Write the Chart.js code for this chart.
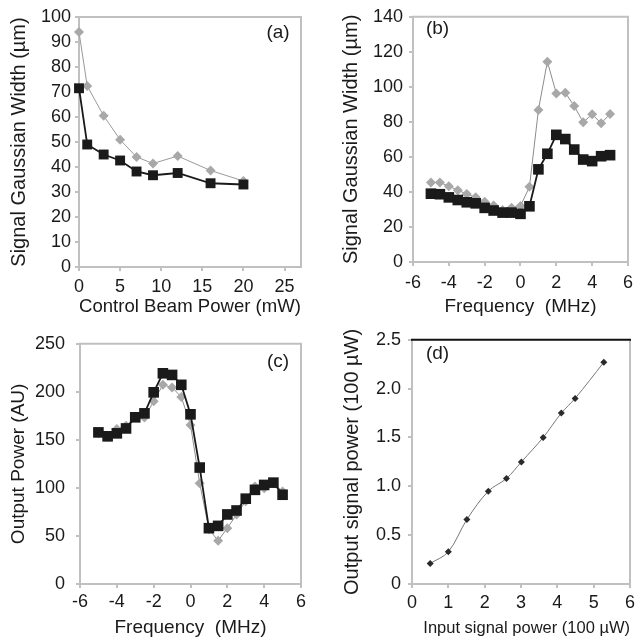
<!DOCTYPE html>
<html>
<head>
<meta charset="utf-8">
<title>Signal width and output power</title>
<script src="https://cdn.jsdelivr.net/npm/chart.js@4.4.1/dist/chart.umd.min.js"></script>
<style>
  html, body { margin: 0; padding: 0; background: #fff; }
  #page { position: relative; width: 639px; height: 642px; overflow: hidden; }
  canvas { position: absolute; }
</style>
</head>
<body>
<div id="page">
  <canvas id="panelA" width="320" height="322" style="left:0px;top:0px"></canvas>
  <canvas id="panelB" width="319" height="322" style="left:320px;top:0px"></canvas>
  <canvas id="panelC" width="320" height="320" style="left:0px;top:322px"></canvas>
  <canvas id="panelD" width="319" height="320" style="left:320px;top:322px"></canvas>
</div>
<script>
// ---- data ----

// (a) width vs control beam power
const powerA = [0, 1, 3, 5, 7, 9, 12, 16, 20];
const widthA_black = [71.5, 49, 45, 42.6, 38.2, 36.7, 37.6, 33.5, 33];
const widthA_grey = [94, 72.4, 60.5, 50.9, 44, 41.4, 44.4, 38.6, 34.4];
const ticksA_x = [0, 5, 10, 15, 20, 25];

// (b) width vs frequency
const freqB = [-5, -4.5, -4, -3.5, -3, -2.5, -2, -1.5, -1, -0.5, 0, 0.5, 1, 1.5, 2, 2.5, 3, 3.5, 4, 4.5, 5];
const widthB_black = [39, 38.7, 36.9, 35.4, 34.1, 33.5, 30.9, 29.4, 28.2, 28.2, 27.5, 31.8, 52.9, 61.8, 72.6, 70.2, 64.2, 58.5, 57.6, 60.4, 61];
const widthB_grey = [45.4, 45.4, 43.3, 41, 38.8, 36.9, 34.4, 32.2, 29.7, 31, 32, 42.9, 86.8, 114.4, 96.2, 96.7, 89, 79.8, 84.3, 79.2, 84.5];

// (c) output power vs frequency
const freqC = [-5, -4.5, -4, -3.5, -3, -2.5, -2, -1.5, -1, -0.5, 0, 0.5, 1, 1.5, 2, 2.5, 3, 3.5, 4, 4.5, 5];
const outC_black = [157.8, 153.7, 156.8, 161.9, 173.5, 177.6, 199.5, 219.3, 217.6, 207.3, 176.6, 121.2, 58.1, 60.5, 72.4, 76.5, 88.8, 98, 103.1, 105.5, 92.9];
const outC_grey = [157, 153, 161.2, 164.6, 174, 173.2, 190.2, 207.3, 204.6, 194.7, 165.6, 104.8, 57, 45.1, 58.1, 72.4, 86.1, 101.4, 99.7, 104.8, 96.3];

// (d) output vs input signal power
const inputD = [0.5, 1.0, 1.51, 2.1, 2.6, 3.01, 3.61, 4.11, 4.49, 5.28];
const outputD = [0.21, 0.33, 0.66, 0.95, 1.08, 1.25, 1.50, 1.75, 1.90, 2.27];

// ---- shared styling ----
const FONT = "'Liberation Sans', Arial, Helvetica, sans-serif";
const FRAME = '#c0c0c0';
const TEXT = '#1a1a1a';

function pts(xs, ys) {
  return xs.map(function (x, i) { return { x: x, y: ys[i] }; });
}

// draws the grey top/right frame and the (a)/(b)... tag
const framePlugin = {
  id: 'frame',
  afterDraw: function (chart, args, opts) {
    const ctx = chart.ctx, a = chart.chartArea;
    ctx.save();
    ctx.lineWidth = 2;
    ctx.strokeStyle = FRAME;
    ctx.beginPath();
    ctx.moveTo(a.right, a.bottom);
    ctx.lineTo(a.right, a.top);
    ctx.stroke();
    ctx.strokeStyle = opts.topColor || FRAME;
    ctx.beginPath();
    ctx.moveTo(a.left - 1, a.top);
    ctx.lineTo(a.right + 1, a.top);
    ctx.stroke();
    ctx.fillStyle = TEXT;
    ctx.font = '19px ' + FONT;
    ctx.textAlign = 'center';
    ctx.textBaseline = 'middle';
    ctx.fillText(opts.tag, opts.tagX, opts.tagY);
    ctx.restore();
  }
};

function axis(o) {
  const ax = {
    type: 'linear',
    min: o.min,
    max: o.max,
    border: { color: FRAME, width: 2 },
    grid: { drawOnChartArea: false, drawTicks: true, tickLength: 4, color: FRAME, lineWidth: 2 },
    ticks: {
      stepSize: o.step,
      padding: o.pad,
      color: TEXT,
      font: { family: FONT, size: 18 },
      maxRotation: 0,
      autoSkip: false
    },
    title: {
      display: true,
      text: o.title,
      align: o.titleAlign || 'center',
      color: TEXT,
      font: { family: o.titleFamily || FONT, size: o.titleSize || 19 },
      padding: o.titlePad
    },
    afterFit: function (scale) {
      if (o.width) scale.width = o.width;
      if (o.height) scale.height = o.height;
    }
  };
  if (o.fixedTicks) {
    ax.afterBuildTicks = function (scale) {
      scale.ticks = o.fixedTicks.map(function (v) { return { value: v }; });
    };
  }
  if (o.fmt) ax.ticks.callback = o.fmt;
  return ax;
}

function blackSeries(xs, ys, r) {
  return {
    data: pts(xs, ys),
    borderColor: '#1a1a1a',
    backgroundColor: '#1a1a1a',
    borderWidth: 1.8,
    pointStyle: 'rect',
    pointRadius: r,
    pointBorderWidth: 0,
    tension: 0,
    clip: false
  };
}

function greySeries(xs, ys, lineColor) {
  return {
    data: pts(xs, ys),
    borderColor: lineColor,
    backgroundColor: '#a8a8a8',
    borderWidth: 1,
    pointStyle: 'rectRot',
    pointRadius: 5,
    pointBorderWidth: 0,
    tension: 0,
    clip: false
  };
}

function makePanel(id, datasets, xAx, yAx, pad, frameOpts) {
  return new Chart(document.getElementById(id), {
    type: 'line',
    data: { datasets: datasets },
    options: {
      responsive: false,
      animation: false,
      devicePixelRatio: 1,
      layout: { padding: pad },
      plugins: { legend: { display: false }, tooltip: { enabled: false }, frame: frameOpts },
      scales: { x: xAx, y: yAx }
    },
    plugins: [framePlugin]
  });
}

// (a)
makePanel('panelA',
  [blackSeries(powerA, widthA_black, 7), greySeries(powerA, widthA_grey, '#999')],
  axis({ min: 0, max: 27, fixedTicks: ticksA_x, pad: 5, title: 'Control Beam Power (mW)', titlePad: { top: 0, bottom: 4 }, height: 55 }),
  axis({ min: 0, max: 100, step: 10, pad: 4, title: 'Signal Gaussian Width (\u00b5m)', titleSize: 20, titlePad: { top: 7, bottom: 0 }, width: 79 }),
  { left: 0, top: 17, right: 19, bottom: 0 },
  { tag: '(a)', tagX: 278, tagY: 33 });

// (b)
makePanel('panelB',
  [blackSeries(freqB, widthB_black, 7.5), greySeries(freqB, widthB_grey, '#8c8c8c')],
  axis({ min: -6, max: 6, step: 2, pad: 6, title: 'Frequency  (MHz)', titlePad: { top: 0, bottom: 4 }, height: 60 }),
  axis({ min: 0, max: 140, step: 20, pad: 6, title: 'Signal Gaussian Width (\u00b5m)', titleSize: 20, titlePad: { top: 19, bottom: 0 }, width: 93 }),
  { left: 0, top: 14, right: 6, bottom: 0 },
  { tag: '(b)', tagX: 117.5, tagY: 29 });

// (c)
makePanel('panelC',
  [blackSeries(freqC, outC_black, 7.5), greySeries(freqC, outC_grey, '#8c8c8c')],
  axis({ min: -6, max: 6, step: 2, pad: 3, title: 'Frequency  (MHz)', titlePad: { top: 0, bottom: 2.6 }, height: 58 }),
  axis({ min: 0, max: 250, step: 50, pad: 11, title: 'Output Power (AU)', titlePad: { top: 7.6, bottom: 0 }, width: 80 }),
  { left: 0, top: 18, right: 19, bottom: 0 },
  { tag: '(c)', tagX: 278, tagY: 40 });

// (d)
makePanel('panelD',
  [{
    data: pts(inputD, outputD),
    borderColor: '#777',
    backgroundColor: '#2a2a2a',
    borderWidth: 1,
    pointStyle: 'rectRot',
    pointRadius: 3.5,
    pointBorderWidth: 0,
    tension: 0.35,
    clip: false
  }],
  axis({ min: 0, max: 6, step: 1, pad: 4, title: 'Input signal power (100 \u00b5W)', titleAlign: 'end',
    titleFamily: "'Liberation Sans Narrow', 'Arial Narrow', " + FONT, titleSize: 16.5, titlePad: { top: 0, bottom: 3.6 }, height: 58 }),
  axis({ min: 0, max: 2.5, step: 0.5, pad: 7, title: 'Output signal power (100 \u00b5W)', titleSize: 20, titlePad: { top: 20, bottom: 0 }, width: 92,
    fmt: function (v) { return v === 0 ? '0' : v.toFixed(1); } }),
  { left: 0, top: 15, right: 6, bottom: 0 },
  { tag: '(d)', tagX: 117.5, tagY: 32, topColor: '#111' });
</script>
</body>
</html>
